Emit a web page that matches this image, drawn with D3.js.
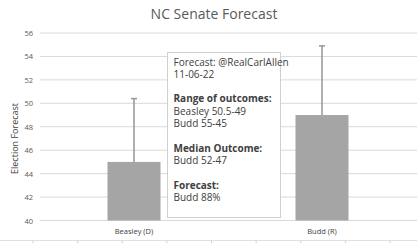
<!DOCTYPE html>
<html>
<head>
<meta charset="utf-8">
<script src="https://cdn.jsdelivr.net/npm/d3@7"></script>
<style>
  body { margin: 0; background: #fff; }
  svg { display: block; font-family: "Open Sans", sans-serif; }
</style>
</head>
<body>
<div id="chart"></div>
<script>
// chart data
var candidates = ["Beasley (D)", "Budd (R)"];
var forecast = [45, 49];
var rangeTop = [50.4, 54.9];
var yTicks = [40, 42, 44, 46, 48, 50, 52, 54, 56];
var noteLines = [
  {text: "Forecast: @RealCarlAllen", bold: false},
  {text: "11-06-22", bold: false},
  {text: "", bold: false},
  {text: "Range of outcomes:", bold: true},
  {text: "Beasley 50.5-49", bold: false},
  {text: "Budd 55-45", bold: false},
  {text: "", bold: false},
  {text: "Median Outcome:", bold: true},
  {text: "Budd 52-47", bold: false},
  {text: "", bold: false},
  {text: "Forecast:", bold: true},
  {text: "Budd 88%", bold: false}
];

var width = 417, height = 243;
var svg = d3.select("#chart").append("svg")
    .attr("width", width)
    .attr("height", height);

var x = d3.scaleBand()
    .domain(candidates)
    .range([40, 416])
    .paddingInner(0.718)
    .paddingOuter(0.359);

var y = d3.scaleLinear()
    .domain([40, 56])
    .range([220.5, 33]);

// title
svg.append("text")
    .attr("x", 214)
    .attr("y", 19)
    .attr("text-anchor", "middle")
    .attr("fill", "#595959")
    .style("font-size", "14px")
    .text("NC Senate Forecast");

// gridlines + tick labels
var grid = svg.append("g");
grid.selectAll("line")
    .data(yTicks)
    .enter().append("line")
    .attr("x1", 40)
    .attr("x2", 417)
    .attr("y1", d => y(d))
    .attr("y2", d => y(d))
    .attr("stroke", "#d9d9d9")
    .attr("stroke-width", 1);
grid.selectAll("text")
    .data(yTicks)
    .enter().append("text")
    .attr("x", 33)
    .attr("y", d => y(d) + 3)
    .attr("text-anchor", "end")
    .attr("fill", "#595959")
    .style("font-size", "7.5px")
    .text(d => d);

// axis title
svg.append("text")
    .attr("transform", "translate(18," + y(47) + ") rotate(-90)")
    .attr("text-anchor", "middle")
    .attr("fill", "#404040")
    .style("font-size", "9px")
    .text("Election Forecast");

// bars
svg.selectAll("rect.bar")
    .data(candidates)
    .enter().append("rect")
    .attr("class", "bar")
    .attr("x", d => x(d))
    .attr("width", x.bandwidth())
    .attr("y", (d, i) => y(forecast[i]))
    .attr("height", (d, i) => y(40) - y(forecast[i]))
    .attr("fill", "#a5a5a5");

// error bars
var err = svg.selectAll("g.err")
    .data(candidates)
    .enter().append("g")
    .attr("class", "err");
err.append("line")
    .attr("x1", d => x(d) + x.bandwidth() / 2)
    .attr("x2", d => x(d) + x.bandwidth() / 2)
    .attr("y1", (d, i) => y(forecast[i]))
    .attr("y2", (d, i) => y(rangeTop[i]))
    .attr("stroke", "#969696")
    .attr("stroke-width", 1.5);
err.append("line")
    .attr("x1", d => x(d) + x.bandwidth() / 2 - 3)
    .attr("x2", d => x(d) + x.bandwidth() / 2 + 3)
    .attr("y1", (d, i) => y(rangeTop[i]))
    .attr("y2", (d, i) => y(rangeTop[i]))
    .attr("stroke", "#969696")
    .attr("stroke-width", 1.5);

// category labels
svg.selectAll("text.cat")
    .data(candidates)
    .enter().append("text")
    .attr("class", "cat")
    .attr("x", d => x(d) + x.bandwidth() / 2)
    .attr("y", 234)
    .attr("text-anchor", "middle")
    .attr("fill", "#404040")
    .style("font-size", "7.5px")
    .text(d => d);

// note box
var box = svg.append("g");
box.append("rect")
    .attr("x", 167.5)
    .attr("y", 52.5)
    .attr("width", 113)
    .attr("height", 165)
    .attr("fill", "#fff")
    .attr("stroke", "#d0d0d0")
    .attr("stroke-width", 1);
box.selectAll("text")
    .data(noteLines)
    .enter().append("text")
    .attr("x", 173.5)
    .attr("y", (d, i) => 65.5 + i * 12.3)
    .attr("fill", "#404040")
    .style("font-size", "10px")
    .style("font-weight", d => d.bold ? "bold" : "normal")
    .text(d => d.text);

// partial axis peeking in at the bottom edge
var base = d3.scaleLinear().domain([0, 8]).range([33, 390]);
svg.append("line")
    .attr("x1", 0).attr("x2", width)
    .attr("y1", 240.5).attr("y2", 240.5)
    .attr("stroke", "#e0e0e0");
svg.selectAll("line.tk")
    .data(d3.range(9))
    .enter().append("line")
    .attr("class", "tk")
    .attr("x1", d => base(d)).attr("x2", d => base(d))
    .attr("y1", 240.5).attr("y2", 243)
    .attr("stroke", "#d0d0d0");
</script>
</body>
</html>
